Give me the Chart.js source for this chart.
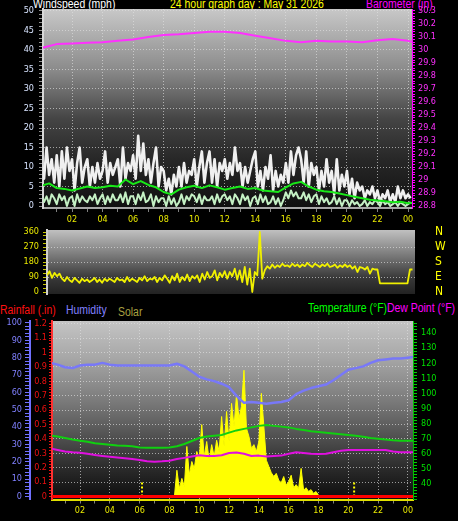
<!DOCTYPE html>
<html>
<head>
<meta charset="utf-8">
<script src="https://cdn.jsdelivr.net/npm/chart.js@4.4.1/dist/chart.umd.min.js"></script>
<style>
body { margin: 0; background: #000; width: 458px; height: 521px; overflow: hidden; position: relative; }
canvas { position: absolute; left: 0; }
.t { position: absolute; font: 12px 'Liberation Sans', Arial, sans-serif; line-height: 12px; white-space: nowrap; transform: scaleX(0.87); transform-origin: 0 0; }
</style>
</head>
<body>
<div class="t" style="left:33px;top:-2px;color:#ffffff">Windspeed (mph)</div>
<div class="t" style="left:170px;top:-2px;color:#ffff00">24 hour graph day : May 31 2026</div>
<div class="t" style="left:366px;top:-2px;color:#ff00ff">Barometer (in)</div>
<div class="t" style="left:0px;top:304px;color:#ff1010">Rainfall (.in)</div>
<div class="t" style="left:66px;top:304px;color:#8080ff">Humidity</div>
<div class="t" style="left:118px;top:306px;color:#a8a040">Solar</div>
<div class="t" style="left:308px;top:302px;color:#00ff00">Temperature (°F)</div>
<div class="t" style="left:387px;top:302px;color:#ff00ff">Dew Point (°F)</div>

<canvas id="wind" width="458" height="226" style="top:0px"></canvas>
<canvas id="dir" width="458" height="74" style="top:226px"></canvas>
<canvas id="temp" width="458" height="221" style="top:300px"></canvas>

<script>
// ---- data (hours from midnight) ----
const gustStep = 1 / 6;
const gust = [
	11, 7, 15, 8, 12, 6,   13, 5, 14, 7, 15, 9,   12, 4, 11, 15, 6, 10,  12, 5, 10, 6, 11, 7,
	9, 14, 6, 11, 8, 10,   12, 5, 15, 7, 11, 9,   13, 7, 18, 9, 16, 8,   12, 6, 11, 15, 5, 10,
	9, 4, 7, 3, 8, 5,      10, 5, 11, 6, 9, 8,    12, 5, 10, 14, 6, 11,  14, 6, 12, 5, 11, 9,
	12, 7, 11, 8, 15, 9,   11, 5, 10, 6, 9, 12,   14, 5, 9, 4, 10, 7,    13, 4, 9, 5, 8, 6,
	11, 6, 14, 8, 13, 15,  12, 6, 14, 5, 11, 8,   10, 4, 9, 5, 12, 6,    9, 3, 12, 4, 8, 5,
	9, 3, 7, 2, 6, 4,      5, 2, 4, 3, 5, 2,      4, 1, 3, 2, 4, 1,      3, 1, 5, 2, 4, 2,
	3, 2
];
const windStep = 1 / 6;
const wind = [
	3, 1, 2.5, 0.5, 3, 2,     0.5, 3, 1.5, 2.5, 0, 2,   2.5, 0, 3, 1, 2.5, 1.5,   1, 2.5, 1.5, 3, 0.5, 2,
	3, 0.5, 2.5, 1, 3, 1.5,   1.5, 3, 1, 3.5, 0.5, 2.5, 2.5, 0.5, 3, 1.5, 3.5, 1, 1.5, 3, 0, 2.5, 1, 2,
	2, 0, 2.5, 0.5, 2, 0,     1, 3, 0.5, 2.5, 1.5, 3,   2.5, 1, 3, 0.5, 2.5, 1.5, 1.5, 2.5, 0.5, 3, 1, 2.5,
	3, 1.5, 2.5, 0.5, 3, 2,   0.5, 3, 1.5, 2.5, 0, 2,   2.5, 0.5, 3, 1, 2.5, 0.5, 1, 2.5, 0.5, 2, 0, 1.5,
	3.5, 2, 4, 2.5, 3.5, 2,   2, 3.5, 1.5, 3, 1, 2.5,   3, 0.5, 2.5, 1, 2, 0.5,   1, 2.5, 0.5, 2, 0, 1.5,
	1.5, 0, 1.5, 0.5, 1, 0,   0.5, 1.5, 0, 1, 0.5, 1.5, 1, 0, 1.5, 0.5, 1, 0,   0.5, 1, 0, 1, 0.5, 0,
	0.5, 1
];
const avgStep = 0.5;
const windAvg = [
	5.2, 5.8, 4.6, 4.4, 4.0, 4.5, 5.0, 4.6, 4.8, 5.2, 5.0, 6.8, 5.6, 6.4, 5.4, 4.8, 3.6, 3.0, 4.2, 4.8,
	5.2, 4.6, 5.3, 4.8, 4.2, 4.6, 5.0, 4.4, 4.6, 4.0, 3.8, 3.6, 4.8, 5.8, 6.2, 5.0, 4.2, 3.8, 3.6, 3.2,
	2.8, 2.4, 2.0, 1.6, 1.4, 1.2, 1.0, 1.1, 0.7, 0.9
];
const baroStep = 1;
const barometer = [
	30.015, 30.045, 30.05, 30.055, 30.06, 30.07, 30.08, 30.10, 30.115, 30.12, 30.13, 30.14, 30.14,
	30.13, 30.11, 30.09, 30.07, 30.06, 30.07, 30.065, 30.065, 30.06, 30.075, 30.085, 30.07, 30.045
];
const dirStep = 1 / 6;
const windDir = [
	100, 125, 85, 115, 95, 110,   80, 65, 90, 70, 60, 85,     70, 55, 80, 65, 75, 60,     70, 85, 60, 75, 55, 80,
	65, 80, 70, 60, 85, 70,       75, 60, 90, 65, 80, 70,     60, 85, 70, 95, 65, 80,     75, 90, 60, 85, 70, 100,
	80, 55, 95, 70, 110, 60,      90, 70, 105, 65, 95, 80,    100, 60, 110, 75, 120, 85,  95, 130, 70, 115, 90, 125,
	80, 120, 95, 140, 75, 130,    60, 150, 45, 140, 0, 120,   100, 360, 80, 130, 155, 140, 165, 145, 160, 150, 170, 155,
	160, 150, 170, 155, 165, 150, 165, 155, 175, 160, 150, 170, 160, 150, 165, 155, 170, 150, 155, 165, 145, 160, 150, 165,
	150, 160, 140, 155, 120, 150, 145, 135, 150, 110, 140, 135, 135, 52, 52, 52, 52, 52,    52, 52, 52, 52, 52, 52,
	52, 135, 135
];
const dirLabels = [0, 90, 180, 270, 360];
const compassNames = ['N', 'E', 'S', 'W', 'N'];

const climateStep = 0.5;
const humidity = [
	77, 76, 74.5, 74, 75.5, 76, 76, 77, 76, 75.5, 75.5, 75.5, 75.5, 75.5, 75.5, 75.5, 75.5, 76.5, 75, 72,
	69, 67.5, 66.5, 65, 63, 58, 54, 54.5, 54, 53.5, 54, 54.5, 55.5, 59, 61, 62.5, 63.5, 64.5, 67, 70,
	73, 74, 75, 77, 78.5, 79, 79.5, 79.5, 80, 80.5
];
const temperature = [
	72, 71.5, 70.5, 69.5, 68.7, 68, 67, 66.5, 66, 65.5, 65.3, 65, 64.2, 64, 64, 64, 64.2, 65, 66.5, 68.5,
	70.5, 71.5, 72, 72.5, 74, 75.5, 76.5, 77.5, 78.5, 79, 78.5, 78, 77.5, 76.5, 75.8, 75, 74.5, 74, 73.5, 73,
	72.4, 72, 71.3, 70.5, 70, 69.5, 69, 68.7, 68.7, 68.7
];
const dewPoint = [
	63.6, 62.5, 61.5, 61, 60.7, 60, 59.2, 58.6, 58, 57.5, 57, 56.5, 55.9, 55, 54.8, 55, 55.4, 56.5, 57.3, 58.2,
	59, 58.6, 58.5, 59, 60.5, 60.8, 60, 58.5, 58.8, 58.2, 58.5, 58.8, 60, 61, 60.5, 60, 59.8, 60, 61, 62,
	62.5, 62.5, 62.5, 62.5, 62.5, 62.5, 61.5, 61, 61, 61
];
const solarStart = 8 + 1 / 3;
const solarStep = 1 / 6;
const solar = [
	0, 210, 65, 145, 80, 400, 175, 280, 225, 360, 305, 575, 320, 440, 290, 415, 320, 450, 360, 640,
	400, 680, 440, 745, 560, 815, 625, 720, 1010, 545, 480, 385, 415, 360, 440, 825, 560, 290, 240, 190,
	160, 185, 130, 110, 160, 90, 120, 170, 70, 95, 65, 225, 50, 70, 40, 55, 25, 40, 10, 0
];
const rainHours = [0, 24.5];
const rainfall = [0, 0];
const sunTimes = [6.16, 20.39];   // sunrise, sunset markers
const sunMarkTop = 0.1;

// ---- helpers ----
const series = (vals, start, step) => vals.map((v, i) => ({ x: start + i * step, y: v }));
const seq = (a, b, s) => {
	const out = [];
	const n = Math.round((b - a) / s);
	for (let i = 0; i <= n; i++) out.push(+(a + i * s).toFixed(4));
	return out;
};
const setTicks = values => s => {
	s.ticks = values.filter(v => v >= s.min && v <= s.max).map(v => ({ value: v }));
};
// fixed axis sizes, no extra room for labels sticking out at the ends
const fitW = w => s => { s.width = w; s.paddingTop = 0; s.paddingBottom = 0; };
const fitH = h => s => { s.height = h; s.paddingLeft = 0; s.paddingRight = 0; };
const isMult = (v, m) => Math.abs(v / m - Math.round(v / m)) < 1e-6;
const hourLabel = v => (v % 2 === 0 && v > 0) ? String(v % 24).padStart(2, '0') : '';
const dotted = 'rgba(225,225,225,0.65)';
const none = 'rgba(0,0,0,0)';
const tickFont = { family: "'Liberation Sans Narrow', 'DejaVu Sans Condensed', 'Liberation Sans', sans-serif", size: 9 };

const panelBg = {
	id: 'panelBg',
	beforeDraw(chart, args, opts) {
		const { ctx, chartArea: a } = chart;
		const g = ctx.createLinearGradient(0, a.top, 0, a.bottom);
		opts.stops.forEach(s => g.addColorStop(s[0], s[1]));
		ctx.save();
		ctx.fillStyle = g;
		ctx.fillRect(a.left, a.top, a.right - a.left, a.bottom - a.top);
		ctx.restore();
	}
};
Chart.register(panelBg);

function baseOptions(padding, stops) {
	return {
		responsive: false,
		animation: false,
		devicePixelRatio: 1,
		events: [],
		layout: { autoPadding: false, padding },
		plugins: { legend: { display: false }, tooltip: { enabled: false }, panelBg: { stops } },
		elements: { point: { radius: 0 }, line: { tension: 0, borderJoinStyle: 'round' } }
	};
}

function hourAxis(min, max, height, display) {
	return {
		type: 'linear', min, max, display,
		afterBuildTicks: setTicks(seq(0, 24, 1)),
		afterFit: fitH(height),
		ticks: { autoSkip: false, maxRotation: 0, color: '#e8e800', padding: 2, font: tickFont, callback: hourLabel },
		grid: {
			color: c => (c.tick && c.tick.value % 2 === 0) ? dotted : none,
			tickColor: '#808080', tickLength: 4
		},
		border: { color: '#a8a8a8', width: 2, dash: [1, 2] }
	};
}

// ---- panel 1: wind speed + barometer ----
const o1 = baseOptions({ top: 9, bottom: 0, left: 0, right: 0 },
	[[0, '#c8c8c8'], [0.3, '#8c8c8c'], [0.55, '#454545'], [0.75, '#282828'], [1, '#101010']]);
o1.scales = {
	x: hourAxis(0.1, 24.26, 18, true),
	y: {
		position: 'left', min: -0.5, max: 50.5,
		afterBuildTicks: setTicks(seq(0, 50, 1)),
		afterFit: fitW(43),
		ticks: { autoSkip: false, color: '#d8e4ff', padding: 5, font: tickFont, callback: v => isMult(v, 5) ? String(v) : '' },
		grid: { color: c => (c.tick && isMult(c.tick.value, 5) && c.tick.value > 0) ? dotted : none, tickColor: '#909090', tickLength: 4 },
		border: { color: '#d8d8d8', width: 2, dash: [1, 2] }
	},
	baro: {
		position: 'right', min: 28.785, max: 30.315,
		afterBuildTicks: setTicks(seq(28.8, 30.3, 0.02)),
		afterFit: fitW(46),
		ticks: { autoSkip: false, color: '#ff30ff', padding: 3, font: tickFont, callback: v => isMult(v, 0.1) ? String(+v.toFixed(1)) : '' },
		grid: { drawOnChartArea: false, tickColor: '#ff00ff', tickLength: 3 },
		border: { color: '#ff00ff', width: 1 }
	}
};
new Chart(document.getElementById('wind'), {
	type: 'line',
	data: {
		datasets: [
			{ data: series(windAvg, 0, avgStep), borderColor: '#18e818', borderWidth: 2, yAxisID: 'y' },
			{ data: series(wind, 0, windStep), borderColor: '#c4f0c4', borderWidth: 2, yAxisID: 'y' },
			{ data: series(gust, 0, gustStep), borderColor: '#f0f0f0', borderWidth: 2.6, yAxisID: 'y' },
			{ data: series(barometer, 0, baroStep), borderColor: '#ff30ff', borderWidth: 2, yAxisID: 'baro' }
		]
	},
	options: o1
});

// ---- panel 2: wind direction ----
const o2 = baseOptions({ top: 4, bottom: 6, left: 0, right: 0 },
	[[0, '#c0c0c0'], [0.45, '#707070'], [0.75, '#383838'], [1, '#222222']]);
o2.scales = {
	x: hourAxis(0, 24.5, 0, false),
	dir: {
		position: 'left', min: -12, max: 372,
		afterBuildTicks: setTicks(seq(0, 360, 22.5)),
		afterFit: fitW(47),
		ticks: { autoSkip: false, color: '#e8e800', padding: 4, font: tickFont, callback: v => isMult(v, 90) ? String(v) : '' },
		grid: { color: c => (c.tick && isMult(c.tick.value, 90) && c.tick.value > 0 && c.tick.value < 360) ? dotted : none, tickColor: '#c8c800', tickLength: 4 },
		border: { color: '#d0d0d0', width: 2, dash: [1, 2] }
	},
	compass: {
		position: 'right', min: -12, max: 372,
		afterBuildTicks: setTicks(dirLabels),
		afterFit: fitW(43),
		ticks: { autoSkip: false, color: '#ffff00', padding: 12, font: { family: tickFont.family, size: 12 }, callback: v => compassNames[dirLabels.indexOf(v)] },
		grid: { display: false },
		border: { display: false }
	}
};
new Chart(document.getElementById('dir'), {
	type: 'line',
	data: {
		datasets: [
			{ data: series(windDir, 0, dirStep), borderColor: '#f0f000', borderWidth: 1.8, yAxisID: 'dir' }
		]
	},
	options: o2
});

// ---- panel 3: rain, humidity, solar, temperature, dew point ----
const o3 = baseOptions({ top: 21, bottom: 0, left: 0, right: 0 },
	[[0, '#c4c4c4'], [0.2, '#a8a8a8'], [0.45, '#7a7a7a'], [0.68, '#4a4a4a'], [0.83, '#2a2a2a'], [1, '#0c0c0c']]);
o3.scales = {
	x: Object.assign(hourAxis(0.12, 24.34, 21.5, true), { border: { color: '#e0e000', width: 2, dash: [1, 2] } }),
	hum: {
		position: 'left', weight: 2, min: -1.73, max: 101.15,
		afterBuildTicks: setTicks(seq(0, 100, 2)),
		afterFit: fitW(30),
		ticks: { autoSkip: false, color: '#8080ff', padding: 3, font: tickFont, callback: v => isMult(v, 10) ? String(v) : '' },
		grid: { drawOnChartArea: false, tickColor: '#7070ff', tickLength: 5 },
		border: { color: '#7070ff', width: 2 }
	},
	rain: {
		position: 'left', weight: 1, min: -0.0208, max: 1.2188,
		afterBuildTicks: setTicks(seq(0, 1.2, 0.02)),
		afterFit: fitW(22),
		ticks: { autoSkip: false, color: '#ee1010', padding: 2, font: tickFont, callback: v => isMult(v, 0.1) ? String(+v.toFixed(1)) : '' },
		grid: { color: c => (c.tick && isMult(c.tick.value, 0.1) && c.tick.value > 0) ? dotted : none, tickColor: '#ee1010', tickLength: 3 },
		border: { color: '#ff3030', width: 2, dash: [1, 2] }
	},
	temp: {
		position: 'right', min: 29.74, max: 147.95,
		afterBuildTicks: setTicks(seq(30, 146, 2)),
		afterFit: fitW(45),
		ticks: { autoSkip: false, color: '#00e000', padding: 4, font: tickFont, callback: v => (isMult(v, 10) && v >= 40) ? String(v) : '' },
		grid: { drawOnChartArea: false, tickColor: '#00d000', tickLength: 4 },
		border: { color: '#00c000', width: 1 }
	},
	solar: { display: false, min: -24, max: 1404 }
};
new Chart(document.getElementById('temp'), {
	type: 'line',
	data: {
		datasets: [
			{ data: rainHours.map((h, i) => ({ x: h, y: rainfall[i] })), borderColor: '#ff0000', borderWidth: 3, yAxisID: 'rain' },
			...sunTimes.map(t => ({ data: [{ x: t, y: 0 }, { x: t, y: sunMarkTop }], borderColor: '#ffff00', borderWidth: 2, borderDash: [2, 2], borderCapStyle: 'butt', yAxisID: 'rain' })),
			{ data: series(temperature, 0, climateStep), borderColor: '#10d010', borderWidth: 2, yAxisID: 'temp' },
			{ data: series(dewPoint, 0, climateStep), borderColor: '#e010e0', borderWidth: 2, yAxisID: 'temp' },
			{ data: series(humidity, 0, climateStep), borderColor: '#7878f8', borderWidth: 2.5, yAxisID: 'hum' },
			{ data: series(solar, solarStart, solarStep), borderColor: '#ffff00', backgroundColor: '#ffff00', borderWidth: 1, fill: 'origin', yAxisID: 'solar' }
		]
	},
	options: o3
});
</script>
</body>
</html>
